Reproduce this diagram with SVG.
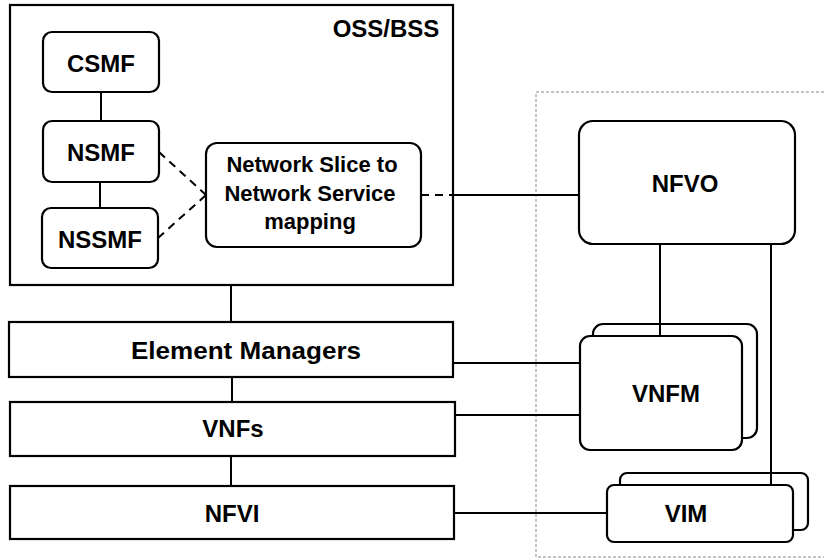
<svg xmlns="http://www.w3.org/2000/svg" width="824" height="560" viewBox="0 0 824 560">
<style>
.box{fill:#fff;stroke:#000;stroke-width:2.2}
.ln{stroke:#000;stroke-width:2;fill:none}
.dash{stroke:#000;stroke-width:2;fill:none;stroke-dasharray:8 6}
.t{font-family:"Liberation Sans",Arial,sans-serif;font-weight:bold;font-size:24px;fill:#000;text-anchor:middle}
.ts{font-size:22px}
</style>
<rect width="824" height="560" fill="#fff"/>
<rect id="nfv-area" x="536" y="92" width="300" height="465" fill="none" stroke="#888" stroke-width="1" stroke-dasharray="3 2"/>
<g id="oss-bss">
<rect class="box" x="10" y="5" width="443" height="280"/>
<text class="t" x="386" y="37">OSS/BSS</text>
</g>
<g id="connectors">
<line class="ln" x1="101" y1="92" x2="101" y2="121"/>
<line class="ln" x1="100" y1="182" x2="100" y2="208"/>
<line class="dash" x1="159" y1="152" x2="206" y2="195"/>
<line class="dash" x1="158" y1="238" x2="206" y2="195"/>
<line class="dash" x1="421" y1="195" x2="452" y2="195"/>
<line class="ln" x1="453" y1="195" x2="579" y2="195"/>
<line class="ln" x1="231" y1="285" x2="231" y2="322"/>
<line class="ln" x1="232" y1="377" x2="232" y2="402"/>
<line class="ln" x1="231" y1="456" x2="231" y2="486"/>
<line class="ln" x1="453" y1="363" x2="580" y2="363"/>
<line class="ln" x1="455" y1="415" x2="580" y2="415"/>
<line class="ln" x1="454" y1="513" x2="607" y2="513"/>
</g>
<g id="csmf">
<rect class="box" x="43" y="32" width="116" height="60" rx="9"/>
<text class="t" x="101" y="72">CSMF</text>
</g>
<g id="nsmf">
<rect class="box" x="43" y="121" width="116" height="61" rx="9"/>
<text class="t" x="101" y="161">NSMF</text>
</g>
<g id="nssmf">
<rect class="box" x="42" y="208" width="116" height="60" rx="9"/>
<text class="t" x="100" y="248">NSSMF</text>
</g>
<g id="mapping">
<rect class="box" x="206" y="143" width="215" height="104" rx="11"/>
<text class="t ts" x="312" y="172">Network Slice to</text>
<text class="t ts" x="310" y="201">Network Service</text>
<text class="t ts" x="310" y="229">mapping</text>
</g>
<g id="nfvo">
<rect class="box" x="579" y="121" width="216" height="123" rx="14"/>
<text class="t" x="685" y="192">NFVO</text>
</g>
<g id="element-managers">
<rect class="box" x="9" y="322" width="444" height="55"/>
<text class="t" x="246" y="359" textLength="230" lengthAdjust="spacingAndGlyphs">Element Managers</text>
</g>
<g id="vnfs">
<rect class="box" x="10" y="402" width="445" height="54"/>
<text class="t" x="233" y="437">VNFs</text>
</g>
<g id="nfvi">
<rect class="box" x="10" y="486" width="444" height="53"/>
<text class="t" x="232" y="522">NFVI</text>
</g>
<g id="vnfm">
<rect class="box" x="593" y="324" width="164" height="114" rx="10"/>
<rect class="box" x="580" y="336" width="162" height="114" rx="10"/>
<text class="t" x="666" y="402">VNFM</text>
</g>
<g id="vim">
<rect class="box" x="620" y="473" width="188" height="57" rx="7"/>
<rect class="box" x="607" y="485" width="186" height="57" rx="7"/>
<text class="t" x="686" y="522">VIM</text>
</g>
<g id="connectors-nfv">
<line class="ln" x1="660" y1="244" x2="660" y2="336"/>
<line class="ln" x1="771" y1="244" x2="771" y2="485"/>
</g>
</svg>
